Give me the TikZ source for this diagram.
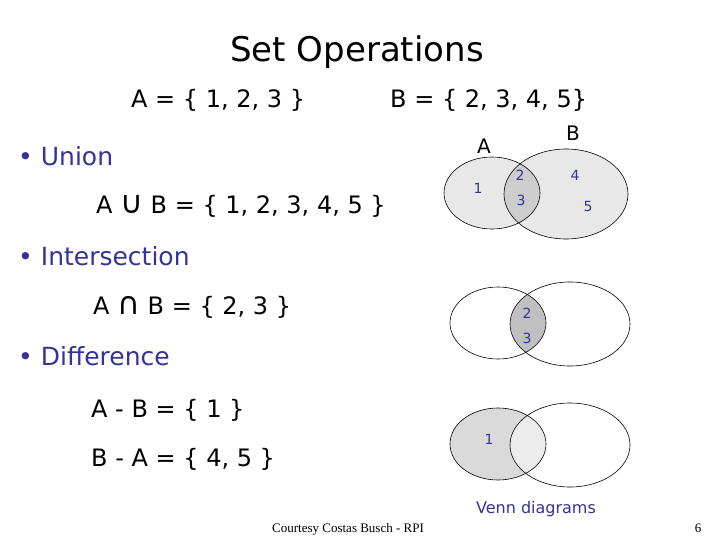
\documentclass[tikz,border=0pt]{standalone}
\usepackage{fontspec}
\setmainfont{DejaVu Sans}
\newfontfamily\footfont{Liberation Serif}
\definecolor{tblue}{RGB}{51,51,153}
\definecolor{lgray}{RGB}{232,232,232}
\definecolor{mgray}{RGB}{205,205,205}
\definecolor{igray}{RGB}{192,192,192}
\definecolor{agray}{RGB}{218,218,218}
\definecolor{bgray}{RGB}{236,236,236}
\newcommand{\bigop}[1]{\scalebox{1.3}{#1}}
\begin{document}
\begin{tikzpicture}[x=1pt,y=-1pt,
  eq/.style={anchor=base west,inner sep=0pt,font=\fontsize{24}{28}\selectfont},
  bullet/.style={anchor=base west,inner sep=0pt,text=tblue,font=\fontsize{25}{29}\selectfont},
  num/.style={inner sep=0pt,text=tblue,font=\fontsize{14}{16}\selectfont},
  vlabel/.style={inner sep=0pt,font=\fontsize{20}{24}\selectfont},
  outline/.style={draw=black,line width=0.6pt}]
\useasboundingbox (0,0) rectangle (720,540);
\fill[white] (0,0) rectangle (720,540);
% title
\node[anchor=base,inner sep=0pt,font=\fontsize{34}{38}\selectfont] (title) at (357,62) {Set Operations};
\node[eq] (seta) at (131,108) {A = \{ 1, 2, 3 \}};
\node[eq] (setb) at (390,108) {B = \{ 2, 3, 4, 5\}};
% bullets
\node[bullet] (union) at (18,166) {• Union};
\node[eq] (uniq) at (96,214) {A \bigop{∪} B = \{ 1, 2, 3, 4, 5 \}};
\node[bullet] (inter) at (18,265) {• Intersection};
\node[eq] (intq) at (93,314) {A \bigop{∩} B = \{ 2, 3 \}};
\node[bullet] (diff) at (18,365) {• Difference};
\node[eq] (d1) at (91,417) {A - B = \{ 1 \}};
\node[eq] (d2) at (91,466) {B - A = \{ 4, 5 \}};
% Venn 1
\fill[lgray] (492,193) ellipse [x radius=48,y radius=36];
\fill[lgray] (566,194) ellipse [x radius=62,y radius=45];
\begin{scope}
\clip (492,193) ellipse [x radius=48,y radius=36];
\fill[mgray] (566,194) ellipse [x radius=62,y radius=45];
\end{scope}
\draw[outline] (492,193) ellipse [x radius=48,y radius=36];
\draw[outline] (566,194) ellipse [x radius=62,y radius=45];
\node[vlabel] (la) at (484,146) {A};
\node[vlabel] (lb) at (573,133) {B};
\node[num] (n1) at (478,188) {1};
\node[num] (n2) at (520,175) {2};
\node[num] (n3) at (521,200) {3};
\node[num] (n4) at (575,175) {4};
\node[num] (n5) at (588,206) {5};
% Venn 2
\begin{scope}
\clip (498,323) ellipse [x radius=48,y radius=36];
\fill[igray] (570,324) ellipse [x radius=60,y radius=42];
\end{scope}
\draw[outline] (498,323) ellipse [x radius=48,y radius=36];
\draw[outline] (570,324) ellipse [x radius=60,y radius=42];
\node[num] (m2) at (527,313) {2};
\node[num] (m3) at (527,338) {3};
% Venn 3
\fill[agray] (498,444) ellipse [x radius=48,y radius=36];
\begin{scope}
\clip (498,444) ellipse [x radius=48,y radius=36];
\fill[bgray] (570,445) ellipse [x radius=60,y radius=42];
\end{scope}
\draw[outline] (498,444) ellipse [x radius=48,y radius=36];
\draw[outline] (570,445) ellipse [x radius=60,y radius=42];
\node[num] (k1) at (489,439) {1};
\node[anchor=base,inner sep=0pt,text=tblue,font=\fontsize{16}{19}\selectfont] (venn) at (536,513) {Venn diagrams};
% footer
\node[anchor=base west,inner sep=0pt,font=\footfont\fontsize{13}{15}\selectfont] (foot) at (272,532) {Courtesy Costas Busch - RPI};
\node[anchor=base,inner sep=0pt,font=\footfont\fontsize{13}{15}\selectfont] (page) at (698,532) {6};
\end{tikzpicture}
\end{document}
